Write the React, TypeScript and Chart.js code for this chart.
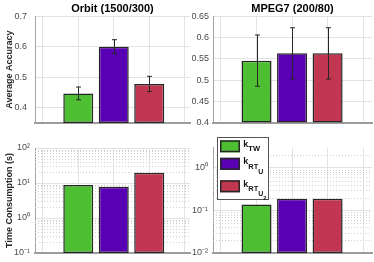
import React, { useEffect, useRef } from 'react';
import { Chart, registerables } from 'chart.js';

Chart.register(...registerables);

// ---------- data ----------
const categories = ['k_TW', 'k_RT_U', 'k_RT_U2'];
const categoryPositions = [1, 2, 3];
const barColors = ['#4EBF33', '#5A00B4', '#C13651'];

const orbitAccuracy = [0.447, 0.6, 0.478];
const orbitAccuracyErr = [0.021, 0.023, 0.025];
const mpegAccuracy = [0.546, 0.563, 0.563];
const mpegAccuracyErr = [0.06, 0.06, 0.06];
const orbitTime = [8.8, 7.8, 19.7];
const mpegTime = [0.138, 0.188, 0.188];

const orbitAccTicks = [0.4, 0.5, 0.6, 0.7];
const mpegAccTicks = [0.4, 0.45, 0.5, 0.55, 0.6, 0.65];
const orbitTimeTicks = [0.1, 1, 10, 100];
const orbitTimeTickLabels = ['10\u207B\u00B9', '10\u2070', '10\u00B9', '10\u00B2'];
const mpegTimeTicks = [0.01, 0.1, 1];
const mpegTimeTickLabels = ['10\u207B\u00B2', '10\u207B\u00B9', '10\u2070'];
const xGridTicks = [0, 1, 2, 3, 4];

// legend label parts: each following part is one subscript level deeper
const legendLabels = [
  ['k', 'TW'],
  ['k', 'RT', 'U'],
  ['k', 'RT', 'U', '2'],
];

const FONT = "'Liberation Sans', Arial, Helvetica, sans-serif";
const GRID = '#e2e2e2';

type Panel = {
  left: number; top: number; width: number; height: number;
  padding: { left: number; right: number; top: number; bottom: number };
  yWidth: number; tickPad: number;
  title?: string; yTitle?: string;
  values: number[]; errors?: number[];
  yType: 'linear' | 'logarithmic';
  yMin: number; yMax: number;
  yTicks: number[]; yTickLabels?: string[];
  xMin: number; xMax: number;
  legend?: boolean;
};

function minorLogValues(min: number, max: number) {
  const out: number[] = [];
  for (let e = Math.floor(Math.log10(min)); e <= Math.ceil(Math.log10(max)); e++) {
    for (let m = 2; m <= 9; m++) {
      const v = m * Math.pow(10, e);
      if (v > min * 1.0001 && v < max * 0.9999) out.push(v);
    }
  }
  return out;
}

function buildConfig(p: Panel): any {
  const errorPlugin = {
    id: 'errorBars',
    afterDatasetsDraw(chart: any) {
      if (!p.errors) return;
      const meta = chart.getDatasetMeta(0);
      const ys = chart.scales.y;
      const ctx = chart.ctx;
      ctx.save();
      ctx.strokeStyle = '#262626';
      ctx.lineWidth = 1;
      meta.data.forEach((bar: any, i: number) => {
        const v = p.values[i];
        const e = p.errors![i];
        const x = Math.round(bar.x) + 0.5;
        const y1 = ys.getPixelForValue(v + e);
        const y2 = ys.getPixelForValue(v - e);
        ctx.beginPath();
        ctx.moveTo(x, y1); ctx.lineTo(x, y2);
        ctx.moveTo(x - 2.5, y1); ctx.lineTo(x + 2.5, y1);
        ctx.moveTo(x - 2.5, y2); ctx.lineTo(x + 2.5, y2);
        ctx.stroke();
      });
      ctx.restore();
    },
  };

  const minorGridPlugin = {
    id: 'minorGrid',
    beforeDatasetsDraw(chart: any) {
      if (p.yType !== 'logarithmic') return;
      const ys = chart.scales.y;
      const { left, right } = chart.chartArea;
      const ctx = chart.ctx;
      ctx.save();
      ctx.strokeStyle = '#cfcfcf';
      ctx.lineWidth = 1;
      ctx.setLineDash([1, 2]);
      minorLogValues(p.yMin, p.yMax).forEach((v) => {
        const y = Math.round(ys.getPixelForValue(v)) + 0.5;
        ctx.beginPath();
        ctx.moveTo(left, y);
        ctx.lineTo(right, y);
        ctx.stroke();
      });
      ctx.restore();
    },
  };

  const legendPlugin = {
    id: 'customLegend',
    afterDraw(chart: any) {
      if (!p.legend) return;
      const ctx = chart.ctx;
      ctx.save();
      // box
      ctx.fillStyle = '#ffffff';
      ctx.fillRect(25, 7, 51, 62);
      ctx.strokeStyle = '#555555';
      ctx.lineWidth = 1;
      ctx.strokeRect(25.5, 7.5, 51, 62);
      const rowTops = [10.3, 27.8, 50.3];
      const sizes = [9, 7.5, 7, 5.5];
      const drops = [0, 4.3, 5, 4];
      legendLabels.forEach((parts, i) => {
        const top = rowTops[i];
        ctx.fillStyle = barColors[i];
        ctx.fillRect(28, top, 20, 12);
        ctx.strokeStyle = '#262626';
        ctx.lineWidth = 1.5;
        ctx.strokeRect(28.75, top + 0.75, 18.5, 10.5);
        let x = 51.3;
        let base = top + 6.5;
        ctx.fillStyle = '#111111';
        ctx.textBaseline = 'alphabetic';
        ctx.textAlign = 'left';
        parts.forEach((t, j) => {
          base += drops[j];
          ctx.font = `bold ${sizes[j]}px ${FONT}`;
          ctx.fillText(t, x, base);
          x += ctx.measureText(t).width;
        });
      });
      ctx.restore();
    },
  };

  const isLog = p.yType === 'logarithmic';

  return {
    type: 'bar',
    data: {
      datasets: [
        {
          label: 'values',
          data: p.values.map((v, i) => ({ x: categoryPositions[i], y: v })),
          backgroundColor: barColors,
          borderColor: '#262626',
          borderWidth: 1.5,
          borderSkipped: false,
          base: isLog ? undefined : p.yMin,
          barPercentage: 0.845,
          categoryPercentage: 1,
        },
      ],
    },
    options: {
      responsive: false,
      animation: false,
      devicePixelRatio: 1,
      layout: { padding: p.padding },
      plugins: {
        legend: { display: false },
        tooltip: { enabled: false },
        title: p.title
          ? {
              display: true,
              text: p.title,
              fullSize: false,
              color: '#000000',
              font: { family: FONT, size: 11, weight: 'bold', lineHeight: 1.2 },
              padding: { top: 2, bottom: 1 },
            }
          : { display: false },
      },
      scales: {
        x: {
          type: 'linear',
          min: p.xMin,
          max: p.xMax,
          offset: false,
          bounds: 'data',
          grid: { color: GRID, drawTicks: false, offset: false },
          border: { display: true, color: '#9c9c9c', width: 2 },
          ticks: { display: false },
          afterBuildTicks: (s: any) => {
            s.ticks = xGridTicks.map((v) => ({ value: v }));
          },
          afterFit: (s: any) => {
            s.height = 0;
          },
        },
        y: {
          type: p.yType,
          min: p.yMin,
          max: p.yMax,
          bounds: 'data',
          grid: { color: GRID, drawTicks: false },
          border: { display: true, color: '#a3a3a3', width: 1 },
          ticks: {
            autoSkip: false,
            color: '#4a4a4a',
            padding: p.tickPad,
            font: { family: FONT, size: 9 },
            callback: (v: any, i: number) =>
              p.yTickLabels ? p.yTickLabels[i] : String(p.yTicks[i]),
          },
          title: p.yTitle
            ? {
                display: true,
                text: p.yTitle,
                color: '#262626',
                font: { family: FONT, size: 9, weight: 'bold', lineHeight: 1.2 },
                padding: { top: 4.6, bottom: 0 },
              }
            : { display: false },
          afterBuildTicks: (s: any) => {
            s.ticks = p.yTicks.map((v) => ({ value: v, major: true }));
          },
          afterFit: (s: any) => {
            s.width = p.yWidth;
            s.paddingTop = 0;
            s.paddingBottom = 0;
          },
        },
      },
    },
    plugins: [minorGridPlugin, errorPlugin, legendPlugin],
  };
}

const panels: Panel[] = [
  {
    left: 0, top: 0, width: 192, height: 130,
    padding: { left: 0, right: 2, top: 0, bottom: 7 },
    yWidth: 35, tickPad: 8,
    title: 'Orbit (1500/300)', yTitle: 'Average Accuracy',
    values: orbitAccuracy, errors: orbitAccuracyErr,
    yType: 'linear', yMin: 0.35, yMax: 0.7, yTicks: orbitAccTicks,
    xMin: -0.22, xMax: 4.15,
  },
  {
    left: 192, top: 0, width: 182, height: 130,
    padding: { left: 0, right: 2, top: 0, bottom: 7 },
    yWidth: 21, tickPad: 4,
    title: 'MPEG7 (200/80)',
    values: mpegAccuracy, errors: mpegAccuracyErr,
    yType: 'linear', yMin: 0.4, yMax: 0.65, yTicks: mpegAccTicks,
    xMin: -0.225, xMax: 4.25,
  },
  {
    left: 0, top: 130, width: 192, height: 132,
    padding: { left: 0, right: 2, top: 18, bottom: 9 },
    yWidth: 35, tickPad: 5,
    yTitle: 'Time Consumption (s)',
    values: orbitTime,
    yType: 'logarithmic', yMin: 0.1, yMax: 100,
    yTicks: orbitTimeTicks, yTickLabels: orbitTimeTickLabels,
    xMin: -0.22, xMax: 4.15,
  },
  {
    left: 192, top: 130, width: 182, height: 132,
    padding: { left: 0, right: 2, top: 17.5, bottom: 9 },
    yWidth: 21, tickPad: 5,
    values: mpegTime,
    yType: 'logarithmic', yMin: 0.01, yMax: 3,
    yTicks: mpegTimeTicks, yTickLabels: mpegTimeTickLabels,
    xMin: -0.225, xMax: 4.25,
    legend: true,
  },
];

function PanelChart({ p }: { p: Panel }) {
  const ref = useRef<HTMLCanvasElement>(null);
  useEffect(() => {
    const canvas = ref.current;
    if (!canvas) return;
    const chart = new Chart(canvas, buildConfig(p));
    return () => chart.destroy();
  }, [p]);
  return (
    <canvas
      ref={ref}
      width={p.width}
      height={p.height}
      style={{ position: 'absolute', left: p.left, top: p.top, width: p.width, height: p.height }}
    />
  );
}

export default function App() {
  return (
    <div
      style={{ position: 'absolute', left: 0, top: 0, width: 374, height: 262, background: '#ffffff' }}
      data-categories={categories.join(',')}
    >
      {panels.map((p, i) => (
        <PanelChart key={i} p={p} />
      ))}
    </div>
  );
}
